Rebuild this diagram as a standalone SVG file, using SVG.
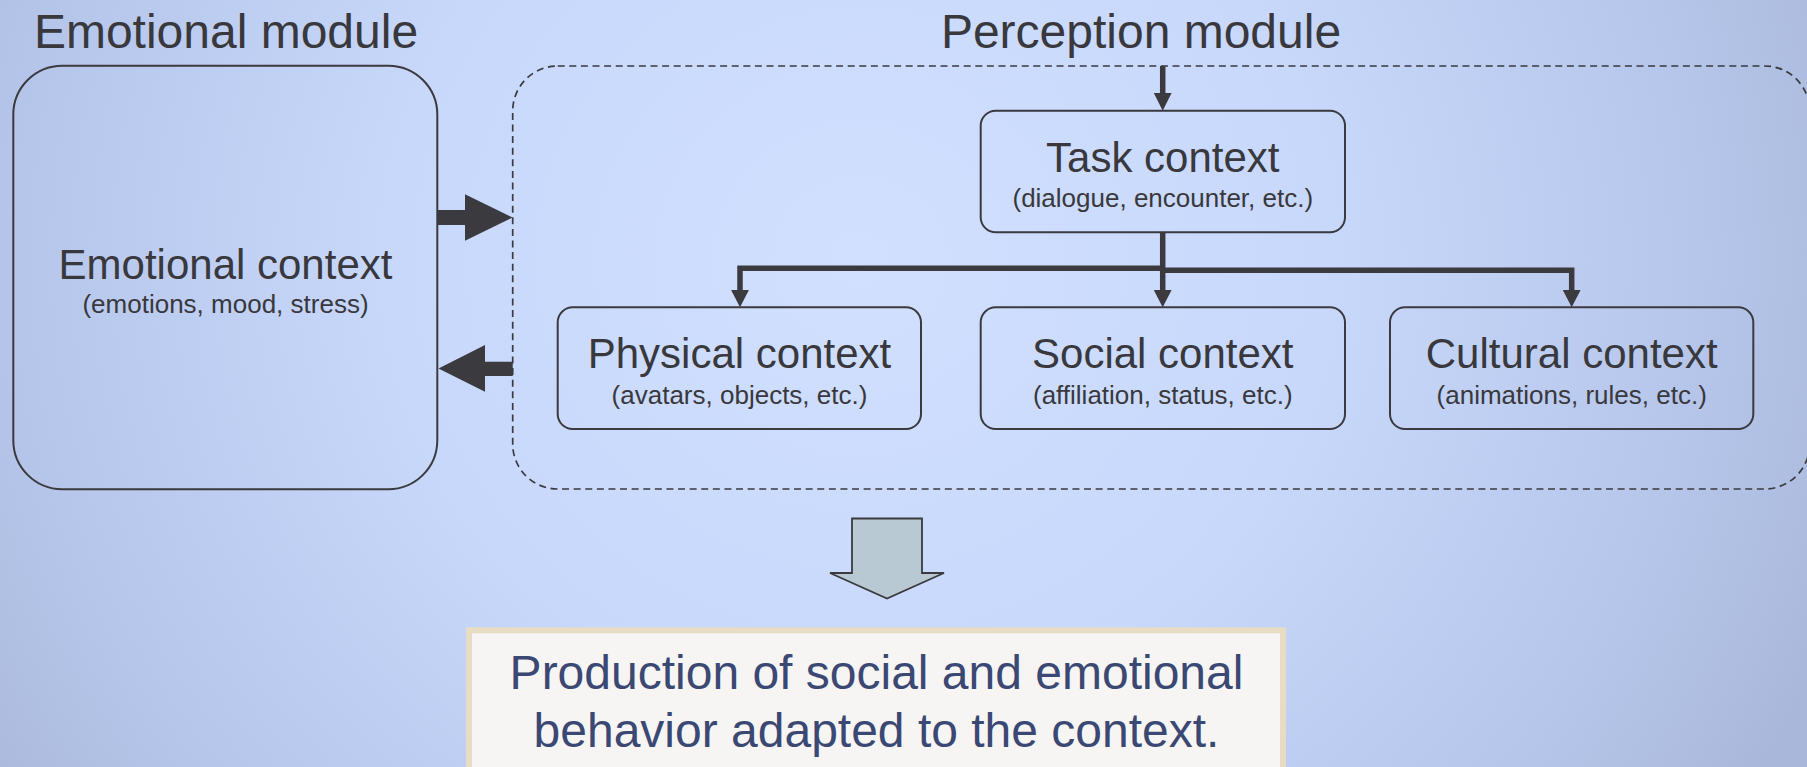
<svg xmlns="http://www.w3.org/2000/svg" width="1807" height="767" viewBox="0 0 1807 767">
  <defs>
    <radialGradient id="bg" gradientUnits="userSpaceOnUse" cx="860" cy="260" r="1050" gradientTransform="translate(860 260) scale(1 0.95) translate(-860 -260)">
      <stop offset="0" stop-color="#d1e0fe"/>
      <stop offset="0.45" stop-color="#c8d8fb"/>
      <stop offset="0.8" stop-color="#b6c6ea"/>
      <stop offset="1" stop-color="#a9b8da"/>
    </radialGradient>
    <style>
      .lbl { font-family: "Liberation Sans", Arial, Helvetica, sans-serif; fill: #38383d; text-anchor: middle; }
      .title { font-size: 48px; }
      .head { font-size: 42px; }
      .sub { font-size: 26px; }
      .box { fill: none; stroke: #3a3a3f; stroke-width: 2; }
      .group { fill: none; stroke: #3a3a3f; stroke-width: 1.7; stroke-dasharray: 7 4.6; }
      .wire { fill: none; stroke: #3a3a3f; stroke-width: 5.5; stroke-linejoin: miter; }
      .tip { fill: #3a3a3f; }
      .prod { font-family: "Liberation Sans", Arial, Helvetica, sans-serif; font-size: 48px; fill: #3b4873; text-anchor: middle; }
    </style>
  </defs>

  <!-- backdrop -->
  <rect x="0" y="0" width="1807" height="767" fill="url(#bg)"/>

  <!-- module titles -->
  <text class="lbl title" x="226" y="47.7">Emotional module</text>
  <text class="lbl title" x="1141" y="47.7">Perception module</text>

  <!-- perception module frame -->
  <g id="perception-module">
    <rect class="group" x="512.7" y="66" width="1297" height="423" rx="45" ry="45"/>
  </g>

  <!-- emotional module -->
  <g id="emotional-context">
    <rect class="box" x="13.3" y="65.7" width="424" height="423.5" rx="49" ry="49"/>
    <text class="lbl head" x="225.5" y="279">Emotional context</text>
    <text class="lbl sub" x="225.5" y="312.7">(emotions, mood, stress)</text>
  </g>

  <g id="task-context">
    <rect class="box" x="980.7" y="110.7" width="364.3" height="121.6" rx="15" ry="15"/>
    <text class="lbl head" x="1162.8" y="171.7">Task context</text>
    <text class="lbl sub" x="1162.8" y="206.7">(dialogue, encounter, etc.)</text>
  </g>

  <g id="physical-context">
    <rect class="box" x="557.7" y="307.3" width="363.3" height="121.7" rx="15" ry="15"/>
    <text class="lbl head" x="739.5" y="368.3">Physical context</text>
    <text class="lbl sub" x="739.5" y="404">(avatars, objects, etc.)</text>
  </g>

  <g id="social-context">
    <rect class="box" x="980.7" y="307.3" width="364.3" height="121.7" rx="15" ry="15"/>
    <text class="lbl head" x="1162.8" y="368.3">Social context</text>
    <text class="lbl sub" x="1162.8" y="404">(affiliation, status, etc.)</text>
  </g>

  <g id="cultural-context">
    <rect class="box" x="1390" y="307.3" width="363.3" height="121.7" rx="15" ry="15"/>
    <text class="lbl head" x="1571.7" y="368.3">Cultural context</text>
    <text class="lbl sub" x="1571.7" y="404">(animations, rules, etc.)</text>
  </g>

  <!-- connectors -->
  <g id="connectors">
    <!-- into the task context -->
    <path class="wire" d="M1162.7 66 V94"/>
    <polygon class="tip" points="1153.8,93 1171.6,93 1162.7,110.7"/>
    <!-- task context fans out -->
    <path class="wire" d="M1162.7 232.3 V291"/>
    <polygon class="tip" points="1153.8,290 1171.6,290 1162.7,307.3"/>
    <path class="wire" d="M1162.7 268.2 H740 V291"/>
    <polygon class="tip" points="731.1,290 748.9,290 740,307.3"/>
    <path class="wire" d="M1162.7 270.2 H1571.7 V291"/>
    <polygon class="tip" points="1562.8,290 1580.6,290 1571.7,307.3"/>
    <!-- emotional to perception -->
    <polygon class="tip" points="437.5,210 465,210 465,194.3 512.5,217.5 465,240.7 465,225 437.5,225"/>
    <!-- perception to emotional -->
    <polygon class="tip" points="512.7,361.7 485,361.7 485,345 438.5,368.5 485,391.7 485,376 512.7,376"/>
  </g>

  <!-- outcome arrow -->
  <g id="outcome-arrow">
    <polygon points="852,518.5 922,518.5 922,573 944,573 887,598.5 830,573 852,573" fill="#b8c9d3" stroke="#3a3a3f" stroke-width="1.8" stroke-linejoin="miter"/>
  </g>

  <!-- resulting behaviour -->
  <g id="behavior">
    <rect x="469" y="630.3" width="814" height="200" fill="#f6f5f3" stroke="#e8dcc4" stroke-width="6"/>
    <text class="prod" x="876.5" y="689.3">Production of social and emotional</text>
    <text class="prod" x="876.5" y="746.7">behavior adapted to the context.</text>
  </g>
</svg>
